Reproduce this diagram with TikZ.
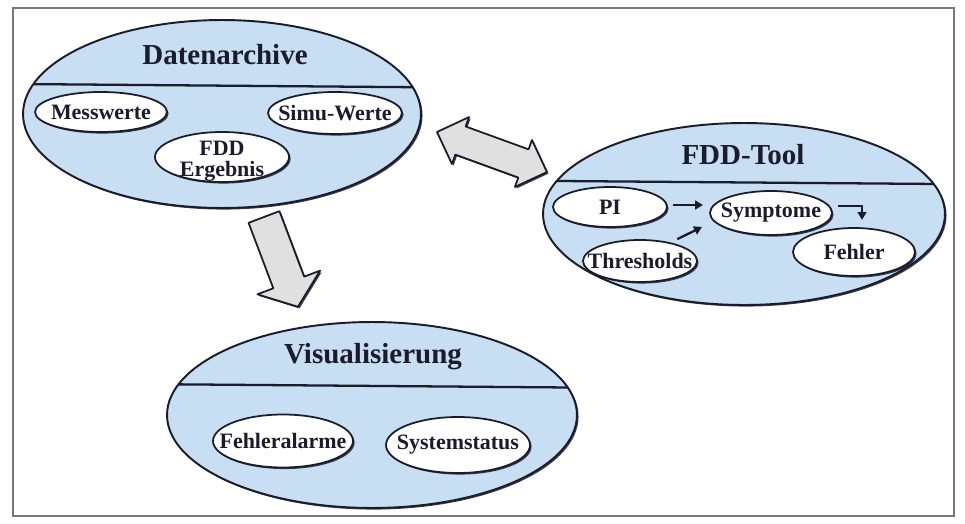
\documentclass[tikz,border=0pt]{standalone}
\usepackage{fontspec}
\setmainfont{Liberation Serif}
\usetikzlibrary{shapes.geometric,arrows.meta,calc,shadows}
\definecolor{hellblau}{RGB}{199,222,243}
\definecolor{dunkel}{RGB}{26,28,44}
\definecolor{pfeilgrau}{RGB}{224,224,224}
\definecolor{rahmengrau}{RGB}{120,120,120}

\begin{document}
\begin{tikzpicture}[x=0.02cm, y=-0.02cm,
  schatten/.style={drop shadow={shadow xshift=0.9pt, shadow yshift=-0.9pt, fill=dunkel, opacity=0.85}},
  aussen/.style={ellipse, draw=dunkel, line width=1.1pt, fill=hellblau, inner sep=0pt, outer sep=0pt, schatten},
  oval/.style={ellipse, draw=dunkel, line width=1pt, fill=white, inner sep=0pt, outer sep=0pt, schatten},
  innentext/.style={text=dunkel, font=\fontsize{12.5}{13}\selectfont\bfseries, align=center},
  innen/.style={oval, label={[innentext]center:#1}},
  titel/.style={text=dunkel, font=\fontsize{16.5}{18}\selectfont\bfseries},
  trenner/.style={draw=dunkel, line width=1.3pt},
  blockpfeil/.style={draw=dunkel, line width=1pt, line join=round, fill=pfeilgrau, schatten},
  kleinpfeil/.style={draw=dunkel, line width=1.3pt, -{Triangle[length=4.5pt,width=5pt]}}]

\useasboundingbox (0,0) rectangle (965,524);
\draw [rahmengrau, line width=0.8pt] (13,8) rectangle (954,516);

% Datenarchive
\node (da) [aussen, minimum width=7.96cm, minimum height=3.76cm] at (222,114) {};
\draw [trenner] (da.171.3) -- (da.8.7);
\node (tda) [titel] at (225,55) {Datenarchive};
\node (mw) [innen=Messwerte, minimum width=2.64cm, minimum height=0.8cm] at (101,112) {};
\node (sw) [innen=Simu-Werte, minimum width=2.68cm, minimum height=0.84cm] at (335,113) {};
\node (fe) [oval, label={[innentext, yshift=-0.09cm]center:{FDD\\[-1pt]Ergebnis}},
  minimum width=2.68cm, minimum height=1.0cm] at (222,157) {};

% FDD-Tool
\node (ft) [aussen, minimum width=8.04cm, minimum height=3.64cm] at (744,214) {};
\draw [trenner] (ft.170.7) -- (ft.9.3);
\node (tft) [titel] at (743,155) {FDD-Tool};
\node (pi) [innen=PI, minimum width=2.28cm, minimum height=0.8cm] at (610,207) {};
\node (sy) [innen=Symptome, minimum width=2.44cm, minimum height=0.88cm] at (771,213) {};
\node (th) [innen=Thresholds, minimum width=2.28cm, minimum height=0.84cm] at (640,261) {};
\node (fh) [innen=Fehler, minimum width=2.44cm, minimum height=0.96cm] at (854,252) {};

\draw [kleinpfeil] ($(pi.east)+(6,-2)$) -- ($(pi.east -| sy.west)+(-7,-2)$);
\draw [kleinpfeil] ($(th.north east)+(-3,-7)$) -- ($(sy.west)+(-8,14)$);
\draw [kleinpfeil] ($(sy.east)+(6,-7)$) -| ($(fh.north)+(8,-8)$);

% Visualisierung
\node (vi) [aussen, minimum width=8.2cm, minimum height=3.72cm] at (372,415) {};
\draw [trenner] (vi.171.9) -- (vi.8.1);
\node (tvi) [titel] at (373,357) {Visualisierung};
\node (fa) [innen=Fehleralarme, minimum width=2.8cm, minimum height=1.06cm] at (283,441) {};
\node (ss) [innen=Systemstatus, minimum width=2.88cm, minimum height=1.12cm] at (458,445) {};

% Blockpfeile
\begin{scope}[shift={(264,217)}, rotate=-69.3]
  \draw [blockpfeil] (0,-16.5) -- (70,-16.5) -- (70,-33.5) -- (96,0) -- (70,33.5) -- (70,16.5) -- (0,16.5) -- cycle;
\end{scope}
\begin{scope}[shift={(437,132)}, rotate=-20]
  \draw [blockpfeil] (0,0) -- (25,-25) -- (25,-15) -- (92,-15) -- (92,-25) -- (117,0) -- (92,25) -- (92,15)
    -- (25,15) -- (25,25) -- cycle;
\end{scope}

\end{tikzpicture}
\end{document}
